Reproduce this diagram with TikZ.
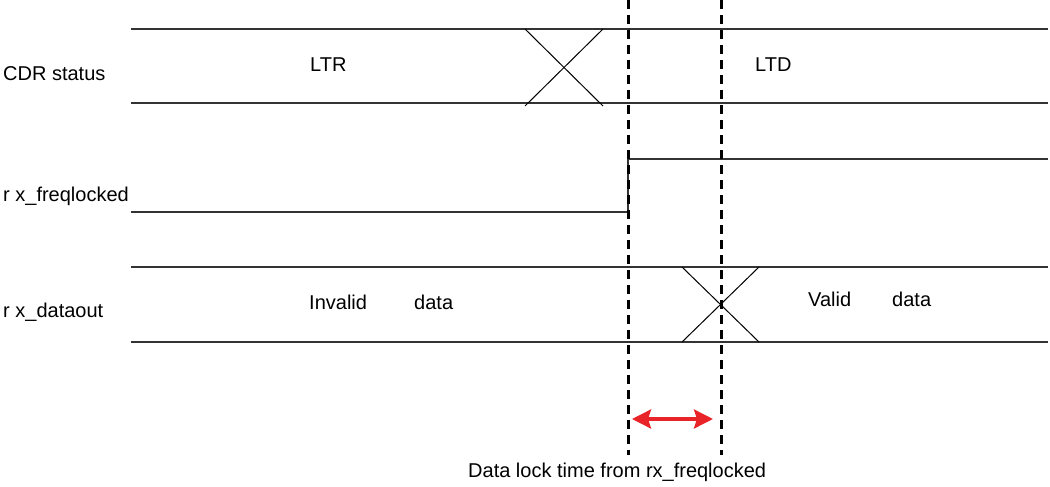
\documentclass[tikz,border=0pt]{standalone}
\usepackage{fontspec}
\setmainfont{Liberation Sans}
\usetikzlibrary{positioning, arrows.meta}
\definecolor{lockred}{RGB}{232,36,40}

\begin{document}
\begin{tikzpicture}[
    x=1pt, y=-1pt,                  % ピクセル単位で配置
    sigline/.style={draw=black!80, line width=1.4pt},
    crossline/.style={draw=black, line width=1pt},
    lockline/.style={draw=black, line width=3pt, dash pattern=on 9pt off 6pt},
    sigtext/.style={font=\fontsize{20}{24}\selectfont, inner sep=0pt, anchor=base west},
    >={Stealth[length=19pt, width=19pt, inset=3pt]}
]
    \useasboundingbox (0,0) rectangle (1050,487);

    % --- 1. CDR status ---
    \draw [sigline] (131,29) -- (1048,29);
    \draw [sigline] (131,103) -- (1048,103);
    \draw [crossline] (525,29) -- (603,106);
    \draw [crossline] (603,29) -- (525,106);
    \node [sigtext] (cdr) at (3,81) {CDR status};
    \node [sigtext] (ltr) at (310,72) {LTR};
    \node [sigtext] (ltd) at (755,72) {LTD};

    % --- 2. rx_freqlocked ---
    \draw [sigline] (131,212) -- (628,212) -- (628,159) -- (1048,159);
    \node [sigtext] (freq) at (3,201) {r x\_freqlocked};

    % --- 3. rx_dataout ---
    \draw [sigline] (131,267) -- (1048,267);
    \draw [sigline] (131,342) -- (1048,342);
    \draw [crossline] (682,267) -- (759,342);
    \draw [crossline] (759,267) -- (682,342);
    \node [sigtext] (dout) at (3,317) {r x\_dataout};
    \node [sigtext] (inv) at (309,309) {Invalid};
    \node [sigtext] (invdata) at (414,309) {data};
    \node [sigtext] (val) at (808,306) {Valid};
    \node [sigtext] (valdata) at (892,306) {data};

    % --- 4. 縦の破線とロック時間 ---
    \coordinate (lockTop) at (628,0);
    \coordinate (lockBot) at (628,455);
    \coordinate (dataTop) at (721,0);
    \coordinate (dataBot) at (721,455);
    \draw [lockline] (lockTop) -- (lockBot);
    \draw [lockline] (dataTop) -- (dataBot);

    \coordinate (arrowL) at (632,419);
    \coordinate (arrowR) at (713,419);
    \draw [<->, lockred, line width=3.2pt] (arrowL) -- (arrowR);
    \node [sigtext] (locktime) at (468,477) {Data lock time from rx\_freqlocked};

\end{tikzpicture}
\end{document}
